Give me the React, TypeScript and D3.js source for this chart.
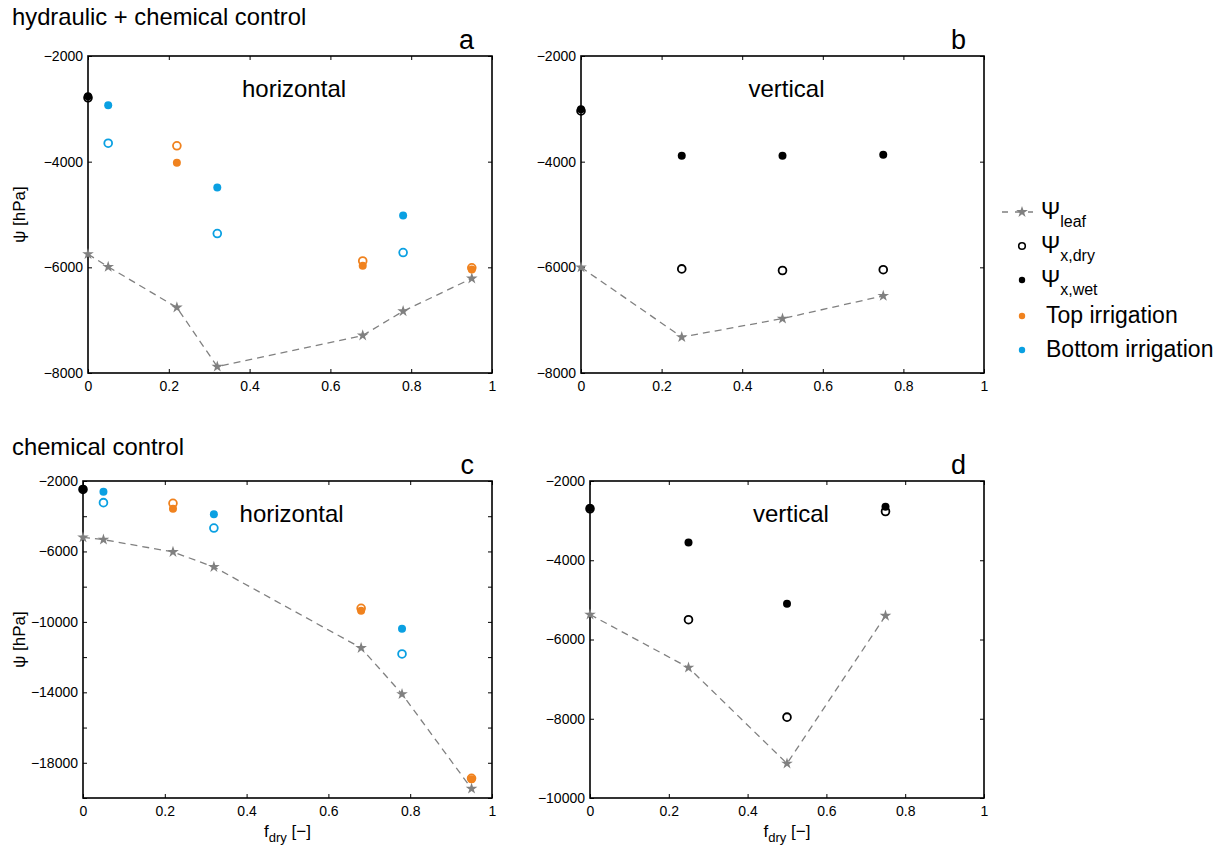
import React, { useEffect, useRef } from 'react';
import * as d3 from 'd3';

const xTicks = [0, 0.2, 0.4, 0.6, 0.8, 1];

// a: hydraulic + chemical, horizontal split
const fA = [0, 0.05, 0.22, 0.32, 0.68, 0.78, 0.95];
const treatA = ['none', 'bottom', 'top', 'bottom', 'top', 'bottom', 'top'];
const leafA = [-5750, -5990, -6760, -7880, -7290, -6830, -6210];
const dryA = [-2790, -3650, -3700, -5360, -5880, -5720, -6010];
const wetA = [-2760, -2930, -4020, -4490, -5970, -5020, -6040];
const yTicksA = [-8000, -6000, -4000, -2000];

// b: hydraulic + chemical, vertical split
const fB = [0, 0.25, 0.5, 0.75];
const treatB = ['none', 'none', 'none', 'none'];
const leafB = [-6000, -7320, -6970, -6540];
const dryB = [-3040, -6030, -6060, -6045];
const wetB = [-3010, -3890, -3890, -3870];
const yTicksB = [-8000, -6000, -4000, -2000];

// c: chemical control, horizontal split
const fC = [0, 0.05, 0.22, 0.32, 0.68, 0.78, 0.95];
const treatC = ['none', 'bottom', 'top', 'bottom', 'top', 'bottom', 'top'];
const leafC = [-5200, -5330, -6030, -6880, -11480, -14100, -19470];
const dryC = [-2480, -3230, -3270, -4670, -9230, -11820, -18880];
const wetC = [-2460, -2610, -3570, -3890, -9370, -10390, -18940];
const yTicksC = [-20000, -18000, -16000, -14000, -12000, -10000, -8000, -6000, -4000, -2000];
const yLabelsC = [-18000, -14000, -10000, -6000, -2000];

// d: chemical control, vertical split
const fD = [0, 0.25, 0.5, 0.75];
const treatD = ['none', 'none', 'none', 'none'];
const leafD = [-5370, -6710, -9130, -5400];
const dryD = [-2700, -5500, -7960, -2770];
const wetD = [-2680, -3550, -5100, -2650];
const yTicksD = [-10000, -8000, -6000, -4000, -2000];

const legendLabels = ['leaf', 'x,dry', 'x,wet', 'Top irrigation', 'Bottom irrigation'];

const ORANGE = '#F0821E';
const BLUE = '#0AA0E2';
const GREY = '#808080';
const FONT = '"Liberation Sans", Arial, Helvetica, sans-serif';

const colorOf = (t: string) => (t === 'top' ? ORANGE : t === 'bottom' ? BLUE : '#000');

const panels = [
  { letter: 'a', name: 'horizontal', f: fA, treat: treatA, leaf: leafA, dry: dryA, wet: wetA, yDomain: [-8000, -2000], yTicks: yTicksA, yLabels: yTicksA, left: 88, right: 492, top: 56, bottom: 373, yTitle: true, xTitle: false },
  { letter: 'b', name: 'vertical', f: fB, treat: treatB, leaf: leafB, dry: dryB, wet: wetB, yDomain: [-8000, -2000], yTicks: yTicksB, yLabels: yTicksB, left: 581, right: 984, top: 56, bottom: 373, yTitle: false, xTitle: false },
  { letter: 'c', name: 'horizontal', f: fC, treat: treatC, leaf: leafC, dry: dryC, wet: wetC, yDomain: [-20000, -2000], yTicks: yTicksC, yLabels: yLabelsC, left: 83, right: 492, top: 481, bottom: 798, yTitle: true, xTitle: true },
  { letter: 'd', name: 'vertical', f: fD, treat: treatD, leaf: leafD, dry: dryD, wet: wetD, yDomain: [-10000, -2000], yTicks: yTicksD, yLabels: yTicksD, left: 590, right: 984, top: 481, bottom: 798, yTitle: false, xTitle: true },
];

export default function App() {
  const ref = useRef<SVGSVGElement>(null);

  useEffect(() => {
    const svg = d3.select(ref.current);
    svg.selectAll('*').remove();
    const fmtX = d3.format('~g');
    const fmtY = d3.format('d');
    const star = d3.symbol().type(d3.symbolStar).size(42);

    // row titles
    svg.append('text').attr('x', 12).attr('y', 25).attr('font-size', 23.8).text('hydraulic + chemical control');
    svg.append('text').attr('x', 12).attr('y', 455).attr('font-size', 23.8).text('chemical control');

    panels.forEach((p) => {
      const x = d3.scaleLinear().domain([0, 1]).range([p.left, p.right]);
      const y = d3.scaleLinear().domain(p.yDomain).range([p.bottom, p.top]);
      const g = svg.append('g');

      const styleAxis = (sel: any) => {
        sel.select('.domain').remove();
        sel.selectAll('line').attr('stroke', '#000').attr('stroke-width', 1);
        sel.selectAll('text').attr('font-size', 14).attr('font-family', FONT).attr('fill', '#000');
      };

      g.append('g')
        .attr('transform', `translate(${p.left},0)`)
        .call(d3.axisLeft(y).tickValues(p.yTicks).tickSizeInner(-4).tickSizeOuter(0).tickPadding(5)
          .tickFormat((d: any) => (p.yLabels.includes(d) ? fmtY(d) : '')))
        .call(styleAxis);
      g.append('g')
        .attr('transform', `translate(${p.right},0)`)
        .call(d3.axisRight(y).tickValues(p.yTicks).tickSizeInner(-4).tickSizeOuter(0).tickFormat(() => ''))
        .call(styleAxis);
      g.append('g')
        .attr('transform', `translate(0,${p.bottom})`)
        .call(d3.axisBottom(x).tickValues(xTicks).tickSizeInner(-4).tickSizeOuter(0).tickPadding(8)
          .tickFormat((d: any) => fmtX(d)))
        .call(styleAxis);
      g.append('g')
        .attr('transform', `translate(0,${p.top})`)
        .call(d3.axisTop(x).tickValues(xTicks).tickSizeInner(-4).tickSizeOuter(0).tickFormat(() => ''))
        .call(styleAxis);

      g.append('rect')
        .attr('x', p.left).attr('y', p.top)
        .attr('width', p.right - p.left).attr('height', p.bottom - p.top)
        .attr('fill', 'none').attr('stroke', '#000').attr('stroke-width', 1.6);

      // leaf water potential
      const line = d3.line<number>().x((d, i) => x(p.f[i])).y((d) => y(d));
      g.append('path').datum(p.leaf)
        .attr('d', line)
        .attr('fill', 'none').attr('stroke', GREY).attr('stroke-width', 1.3).attr('stroke-dasharray', '7,5');
      g.selectAll('.star').data(p.leaf).enter().append('path')
        .attr('transform', (d, i) => `translate(${x(p.f[i])},${y(d)})`)
        .attr('d', star as any)
        .attr('fill', GREY);

      // xylem, dry part (open) then wet part (filled)
      g.selectAll('.dry').data(p.dry).enter().append('circle')
        .attr('cx', (d, i) => x(p.f[i])).attr('cy', (d) => y(d)).attr('r', 3.9)
        .attr('fill', 'none').attr('stroke', (d, i) => colorOf(p.treat[i])).attr('stroke-width', 1.8);
      g.selectAll('.wet').data(p.wet).enter().append('circle')
        .attr('cx', (d, i) => x(p.f[i])).attr('cy', (d) => y(d)).attr('r', 4)
        .attr('fill', (d, i) => colorOf(p.treat[i]));

      g.append('text')
        .attr('x', x(0.51))
        .attr('y', p.top + 41)
        .attr('text-anchor', 'middle').attr('font-size', 24)
        .text(p.name);
      g.append('text')
        .attr('x', p.right - 18).attr('y', p.top - 7)
        .attr('text-anchor', 'end').attr('font-size', 27)
        .text(p.letter);

      if (p.yTitle) {
        g.append('text')
          .attr('transform', `translate(25,${(p.top + p.bottom) / 2}) rotate(-90)`)
          .attr('text-anchor', 'middle').attr('font-size', 17)
          .text('ψ [hPa]');
      }
      if (p.xTitle) {
        const t = g.append('text')
          .attr('x', (p.left + p.right) / 2).attr('y', p.bottom + 39)
          .attr('text-anchor', 'middle').attr('font-size', 17);
        t.append('tspan').text('f');
        t.append('tspan').attr('font-size', 13).attr('dy', 5).text('dry');
        t.append('tspan').attr('dy', -5).text(' [−]');
      }
    });

    // legend
    const lg = svg.append('g');
    const rowY = [212, 246, 280, 316, 350];
    const mx = 1022;
    lg.append('line').attr('x1', 1002).attr('x2', 1033).attr('y1', rowY[0]).attr('y2', rowY[0])
      .attr('stroke', GREY).attr('stroke-width', 1.3).attr('stroke-dasharray', '6,7');
    lg.append('path').attr('transform', `translate(${mx},${rowY[0]})`).attr('d', star as any).attr('fill', GREY);
    lg.append('circle').attr('cx', mx).attr('cy', rowY[1]).attr('r', 3.3)
      .attr('fill', 'none').attr('stroke', '#000').attr('stroke-width', 1.6);
    lg.append('circle').attr('cx', mx).attr('cy', rowY[2]).attr('r', 3.2).attr('fill', '#000');
    lg.append('circle').attr('cx', mx).attr('cy', rowY[3]).attr('r', 3.2).attr('fill', ORANGE);
    lg.append('circle').attr('cx', mx).attr('cy', rowY[4]).attr('r', 3.2).attr('fill', BLUE);
    legendLabels.forEach((lab, i) => {
      const t = lg.append('text').attr('x', 1041).attr('y', rowY[i] + 7).attr('font-size', 23);
      if (i < 3) {
        t.append('tspan').text('Ψ');
        t.append('tspan').attr('font-size', 16).attr('dy', 8).text(lab);
      } else {
        t.attr('x', 1046).text(lab);
      }
    });
  }, []);

  return (
    <svg
      ref={ref}
      width={1229}
      height={846}
      style={{ position: 'absolute', left: 0, top: 0, background: '#fff', fontFamily: FONT }}
    />
  );
}
